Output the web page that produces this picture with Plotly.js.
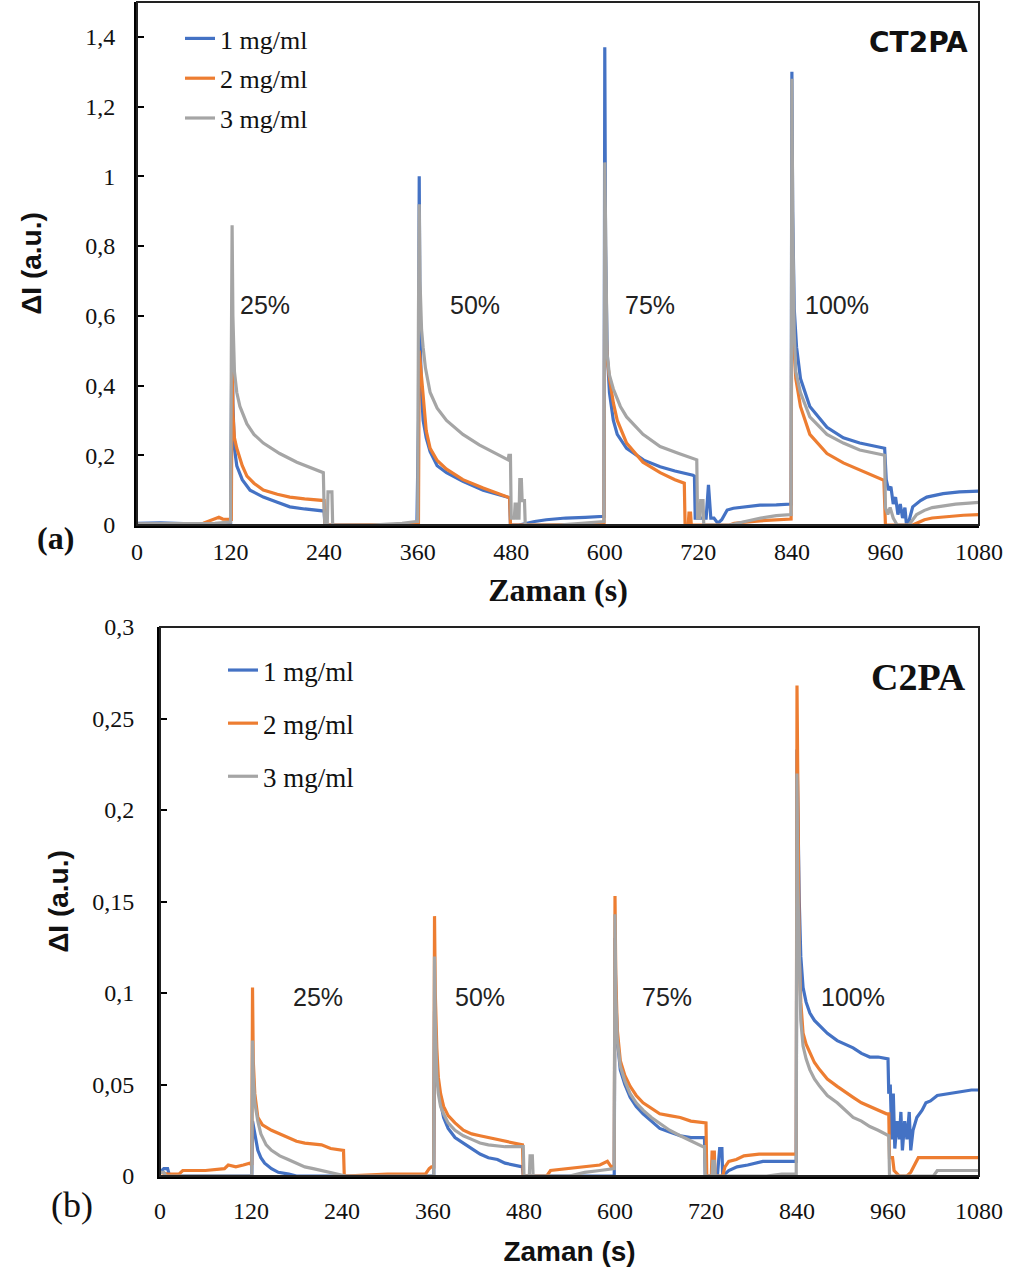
<!DOCTYPE html>
<html>
<head>
<meta charset="utf-8">
<script src="https://cdn.plot.ly/plotly-3.0.1.min.js"></script>
<style>html,body{margin:0;padding:0;background:#fff;}#chart{width:1016px;height:1274px;}</style>
</head>
<body>
<div id="chart"></div>
<script>
// ---------- (a) CT2PA ----------
const seriesNames = ["1 mg/ml", "2 mg/ml", "3 mg/ml"];
const xTickVals = [0, 120, 240, 360, 480, 600, 720, 840, 960, 1080];
const concLabels = ["25%", "50%", "75%", "100%"];

const a1_t = [0,30,60,90,115,120,121,122,123,125,128,135,145,162,180,196,215,237,240,241,300,359,361,362,363,365,367,371,376,385,397,418,444,460,474,478,479,490,500,510,525,550,575,598,599,600,601,603,606,611,616,628,650,671,690,713,715,716,725,730,733,736,740,745,750,757,765,778,799,820,838,839,840,841,843,846,851,863,885,906,927,957,959,961,964,967,970,973,976,979,982,985,987,990,995,1005,1013,1034,1055,1080];
const a1_y = [0.005,0.006,0.004,0.003,0.003,0.003,0.3,0.62,0.35,0.22,0.17,0.13,0.1,0.08,0.065,0.052,0.046,0.04,0.04,0,0,0,0.3,1.0,0.55,0.38,0.3,0.25,0.21,0.17,0.15,0.125,0.1,0.09,0.08,0.078,0,0,0.005,0.01,0.015,0.02,0.022,0.025,0.025,1.37,0.8,0.5,0.38,0.3,0.26,0.22,0.186,0.167,0.155,0.143,0.14,0.02,0.02,0.02,0.115,0.02,0.02,0.005,0.015,0.043,0.048,0.052,0.057,0.058,0.06,0.06,1.3,0.9,0.62,0.51,0.42,0.34,0.28,0.25,0.235,0.22,0.22,0.13,0.1,0.11,0.06,0.08,0.03,0.06,0.02,0.05,0.0,0.01,0.052,0.07,0.08,0.09,0.095,0.097];

const a2_t = [0,30,60,85,95,100,105,110,118,121,122,123,125,128,135,141,150,162,180,196,215,237,240,241,300,355,361,362,364,367,371,376,385,397,418,444,460,474,478,479,598,599,600,601,603,606,611,616,628,649,671,690,702,703,707,708,710,711,760,766,799,838,839,840,842,845,851,863,885,906,927,955,958,960,995,1000,1010,1020,1040,1060,1080];
const a2_y = [0.002,0.002,0.002,0.005,0.015,0.018,0.022,0.017,0.016,0.016,0.47,0.32,0.25,0.22,0.17,0.14,0.12,0.1,0.088,0.08,0.075,0.07,0.07,0,0,0,0.002,0.5,0.45,0.35,0.27,0.22,0.185,0.16,0.13,0.106,0.092,0.08,0.078,0,0.002,0.002,0.77,0.6,0.48,0.42,0.35,0.3,0.235,0.18,0.15,0.13,0.12,0,0,0.034,0.034,0,0,0.005,0.012,0.017,0.017,0.82,0.55,0.42,0.34,0.26,0.205,0.178,0.158,0.13,0.128,0,0,0.005,0.015,0.02,0.025,0.028,0.03];

const a3_t = [0,60,100,118,120,121,122,123,125,128,132,141,150,162,183,205,225,237,239,240,241,244,245,250,251,300,340,358,360,361,362,363,365,367,370,376,385,397,418,439,460,476,477,479,480,484,485,487,488,490,491,493,494,497,498,540,570,598,599,600,601,603,606,611,620,628,649,671,695,718,719,722,723,726,727,760,780,800,820,838,839,840,841,843,845,851,863,885,906,927,955,959,960,963,966,970,975,990,1000,1010,1020,1050,1080];
const a3_y = [0.003,0.003,0.005,0.008,0.008,0.5,0.86,0.6,0.44,0.38,0.34,0.29,0.26,0.235,0.205,0.18,0.163,0.152,0.15,0.05,0,0,0.095,0.095,0,0,0.005,0.01,0.01,0.6,0.92,0.7,0.56,0.51,0.45,0.38,0.335,0.3,0.26,0.23,0.205,0.187,0.2,0.2,0.02,0.02,0.06,0.06,0.02,0.02,0.13,0.13,0.07,0.07,0,0,0.005,0.01,0.01,1.04,0.8,0.49,0.43,0.39,0.34,0.31,0.26,0.225,0.205,0.187,0.02,0.02,0.07,0.07,0,0,0.01,0.02,0.027,0.03,0.03,1.28,0.9,0.55,0.44,0.38,0.31,0.26,0.235,0.215,0.2,0.2,0.05,0.03,0.05,0.02,0,0,0.03,0.042,0.05,0.06,0.065];

// ---------- (b) C2PA ----------
const b1_t = [0,5,10,12,20,121,122,124,129,133,138,147,156,170,180,361,362,363,365,367,370,374,380,389,400,411,422,433,445,455,465,475,478,479,599,600,601,603,607,613,620,628,637,648,659,672,686,700,716,718,719,735,738,741,742,750,761,775,795,820,838,839,840,841,843,845,848,852,857,863,870,880,893,903,914,925,936,947,958,960,961,963,965,967,969,972,975,977,979,982,985,988,990,993,998,1005,1010,1016,1025,1040,1059,1070,1080];
const b1_y = [0.002,0.004,0.004,0.001,0,0,0.03,0.025,0.014,0.01,0.007,0.004,0.002,0.001,0,0,0.09,0.07,0.058,0.049,0.04,0.032,0.026,0.021,0.018,0.015,0.012,0.01,0.009,0.007,0.006,0.005,0.005,0,0,0.13,0.1,0.075,0.058,0.05,0.043,0.038,0.034,0.03,0.026,0.024,0.022,0.021,0.021,0.021,0,0,0.015,0.015,0,0.003,0.005,0.006,0.008,0.008,0.008,0.008,0.233,0.2,0.15,0.12,0.103,0.095,0.089,0.085,0.082,0.078,0.074,0.072,0.07,0.067,0.065,0.065,0.064,0.064,0.045,0.05,0.02,0.045,0.015,0.03,0.02,0.035,0.014,0.03,0.02,0.035,0.014,0.025,0.032,0.036,0.04,0.041,0.044,0.045,0.046,0.047,0.047];

const b2_t = [0,10,25,30,60,85,90,100,110,118,121,122,123,125,129,135,147,158,169,180,191,213,225,240,242,243,300,350,355,358,361,362,363,365,367,370,374,380,389,400,411,422,433,455,470,477,478,479,510,515,540,560,580,590,595,599,600,601,603,607,613,620,628,637,648,659,672,686,700,719,720,721,727,728,731,732,742,745,750,760,770,790,838,839,840,841,843,845,848,852,857,863,870,880,893,903,914,925,936,947,958,961,962,966,968,975,985,990,995,1000,1080];
const b2_y = [0.002,0.001,0.001,0.003,0.003,0.004,0.006,0.005,0.006,0.007,0.006,0.103,0.063,0.045,0.032,0.028,0.025,0.023,0.021,0.019,0.018,0.017,0.015,0.014,0.014,0,0.001,0.001,0.004,0.005,0.005,0.142,0.1,0.07,0.054,0.045,0.038,0.033,0.029,0.025,0.023,0.022,0.021,0.019,0.018,0.017,0.017,0,0,0.003,0.004,0.005,0.006,0.008,0.005,0.006,0.153,0.11,0.08,0.063,0.055,0.049,0.044,0.04,0.037,0.034,0.033,0.032,0.03,0.029,0.029,0,0,0.013,0.013,0,0,0.005,0.008,0.009,0.011,0.012,0.012,0.012,0.268,0.2,0.12,0.095,0.078,0.072,0.067,0.062,0.058,0.053,0.049,0.046,0.043,0.04,0.038,0.036,0.034,0.034,0.01,0.01,0.003,0,0,0.002,0.006,0.01,0.01];

const b3_t = [0,5,8,121,122,123,125,129,133,140,147,158,169,180,191,202,213,225,235,245,361,362,363,365,367,370,374,380,389,400,411,422,433,455,479,480,487,488,491,492,540,560,580,599,600,601,603,607,613,620,628,637,648,659,672,686,700,716,718,719,728,729,731,732,800,820,839,840,841,843,845,848,852,857,863,870,880,893,903,914,925,936,947,958,961,962,1020,1025,1080];
const b3_y = [0.002,0.002,0,0,0.074,0.055,0.04,0.03,0.023,0.017,0.014,0.011,0.009,0.007,0.005,0.004,0.003,0.002,0.001,0,0,0.12,0.085,0.055,0.045,0.038,0.034,0.029,0.025,0.022,0.02,0.018,0.017,0.016,0.016,0,0,0.011,0.011,0,0,0.002,0.003,0.004,0.143,0.1,0.075,0.06,0.052,0.045,0.04,0.036,0.032,0.029,0.025,0.022,0.019,0.016,0.016,0,0,0.008,0.008,0,0,0.001,0.001,0.22,0.16,0.11,0.085,0.071,0.064,0.058,0.053,0.049,0.044,0.04,0.036,0.032,0.03,0.027,0.025,0.023,0.022,0,0,0.003,0.003];

const colors = ["#4472C4", "#ED7D31", "#A5A5A5"];
const serif = "Liberation Serif, Times New Roman, serif";
const sans = "Liberation Sans, Arial, sans-serif";

const topData = [[a1_t, a1_y], [a2_t, a2_y], [a3_t, a3_y]];
const botData = [[b1_t, b1_y], [b2_t, b2_y], [b3_t, b3_y]];

const traces = [];
topData.forEach((d, i) => {
  traces.push({x: d[0], y: d[1], type: "scatter", mode: "lines", name: seriesNames[i],
    line: {color: colors[i], width: 3.2}, xaxis: "x", yaxis: "y",
    legend: "legend", legendgroup: "a" + i});
});
botData.forEach((d, i) => {
  traces.push({x: d[0], y: d[1], type: "scatter", mode: "lines", name: seriesNames[i],
    line: {color: colors[i], width: 3.2}, xaxis: "x2", yaxis: "y2",
    legend: "legend2", legendgroup: "b" + i});
});

const W = 1016, H = 1274;
const px = v => v / W, py = v => 1 - v / H;

const axCommon = {
  showgrid: false, zeroline: false, showline: true, linecolor: "#000",
  ticks: "", layer: "above traces", fixedrange: true
};

const pctFont = {family: sans, size: 25, color: "#222"};

const layout = {
  width: W, height: H,
  margin: {l: 0, r: 0, t: 0, b: 0},
  paper_bgcolor: "#fff", plot_bgcolor: "#fff",
  separators: ",.",
  showlegend: true,
  xaxis: Object.assign({}, axCommon, {
    domain: [px(137), px(979)], range: [0, 1080], tickvals: xTickVals,
    linewidth: 3, anchor: "y", ticklabelstandoff: 3,
    tickfont: {family: serif, size: 24, color: "#111"},
    title: {text: "<b>Zaman (s)</b>", font: {family: serif, size: 32, color: "#111"}, standoff: 15}
  }),
  yaxis: Object.assign({}, axCommon, {
    domain: [py(525), py(2)], range: [0, 1.5], tickvals: [0, 0.2, 0.4, 0.6, 0.8, 1, 1.2, 1.4],
    linewidth: 3, anchor: "x", ticks: "inside", ticklen: 7, tickwidth: 2, tickcolor: "#000",
    ticklabelstandoff: 14,
    tickfont: {family: serif, size: 24, color: "#111"},
    title: {text: "<b>ΔI (a.u.)</b>", font: {family: sans, size: 28, color: "#111"}, standoff: 36}
  }),
  xaxis2: Object.assign({}, axCommon, {
    domain: [px(160), px(979)], range: [0, 1080], tickvals: xTickVals,
    linewidth: 3, anchor: "y2", ticklabelstandoff: 11,
    tickfont: {family: serif, size: 24, color: "#111"},
    title: {text: "<b>Zaman (s)</b>", font: {family: sans, size: 28, color: "#111"}, standoff: 19}
  }),
  yaxis2: Object.assign({}, axCommon, {
    domain: [py(1176), py(627)], range: [0, 0.3], tickvals: [0, 0.05, 0.1, 0.15, 0.2, 0.25, 0.3],
    linewidth: 3, anchor: "x2", ticks: "inside", ticklen: 7, tickwidth: 2, tickcolor: "#000",
    ticklabelstandoff: 18,
    tickfont: {family: serif, size: 24, color: "#111"},
    title: {text: "<b>ΔI (a.u.)</b>", font: {family: sans, size: 28, color: "#111"}, standoff: 16}
  }),
  legend: {
    x: px(180), y: py(15), xanchor: "left", yanchor: "top",
    bgcolor: "rgba(0,0,0,0)", borderwidth: 0, tracegroupgap: 3, traceorder: "grouped",
    font: {family: serif, size: 26, color: "#111"}, itemclick: false, itemdoubleclick: false
  },
  legend2: {
    x: px(223), y: py(646), xanchor: "left", yanchor: "top",
    bgcolor: "rgba(0,0,0,0)", borderwidth: 0, tracegroupgap: 15, traceorder: "grouped",
    font: {family: serif, size: 27, color: "#111"}, itemclick: false, itemdoubleclick: false
  },
  shapes: [
    {type: "rect", xref: "x domain", yref: "y domain", x0: 0, x1: 1, y0: 0, y1: 1,
     line: {color: "#222", width: 2}, layer: "above"},
    {type: "rect", xref: "x2 domain", yref: "y2 domain", x0: 0, x1: 1, y0: 0, y1: 1,
     line: {color: "#222", width: 2}, layer: "above"}
  ],
  annotations: [
    {text: concLabels[0], x: 164, y: 0.63, xref: "x", yref: "y", xanchor: "center", showarrow: false, font: pctFont},
    {text: concLabels[1], x: 434, y: 0.63, xref: "x", yref: "y", xanchor: "center", showarrow: false, font: pctFont},
    {text: concLabels[2], x: 658, y: 0.63, xref: "x", yref: "y", xanchor: "center", showarrow: false, font: pctFont},
    {text: concLabels[3], x: 898, y: 0.63, xref: "x", yref: "y", xanchor: "center", showarrow: false, font: pctFont},
    {text: concLabels[0], x: 208, y: 0.098, xref: "x2", yref: "y2", xanchor: "center", showarrow: false, font: pctFont},
    {text: concLabels[1], x: 422, y: 0.098, xref: "x2", yref: "y2", xanchor: "center", showarrow: false, font: pctFont},
    {text: concLabels[2], x: 669, y: 0.098, xref: "x2", yref: "y2", xanchor: "center", showarrow: false, font: pctFont},
    {text: concLabels[3], x: 914, y: 0.098, xref: "x2", yref: "y2", xanchor: "center", showarrow: false, font: pctFont},
    {text: "<b>CT2PA</b>", x: px(970), y: py(43), xref: "paper", yref: "paper", xanchor: "right", yanchor: "middle", showarrow: false, font: {family: "DejaVu Sans, sans-serif", size: 28, color: "#111"}},
    {text: "<b>C2PA</b>", x: px(968), y: py(677), xref: "paper", yref: "paper", xanchor: "right", yanchor: "middle", showarrow: false, font: {family: serif, size: 38, color: "#111"}},
    {text: "<b>(a)</b>", x: px(55), y: py(538), xref: "paper", yref: "paper", xanchor: "center", yanchor: "middle", showarrow: false, font: {family: serif, size: 32, color: "#111"}},
    {text: "(b)", x: px(72), y: py(1205), xref: "paper", yref: "paper", xanchor: "center", yanchor: "middle", showarrow: false, font: {family: serif, size: 36, color: "#111"}}
  ]
};

Plotly.newPlot("chart", traces, layout, {displayModeBar: false, staticPlot: true});
</script>
</body>
</html>
